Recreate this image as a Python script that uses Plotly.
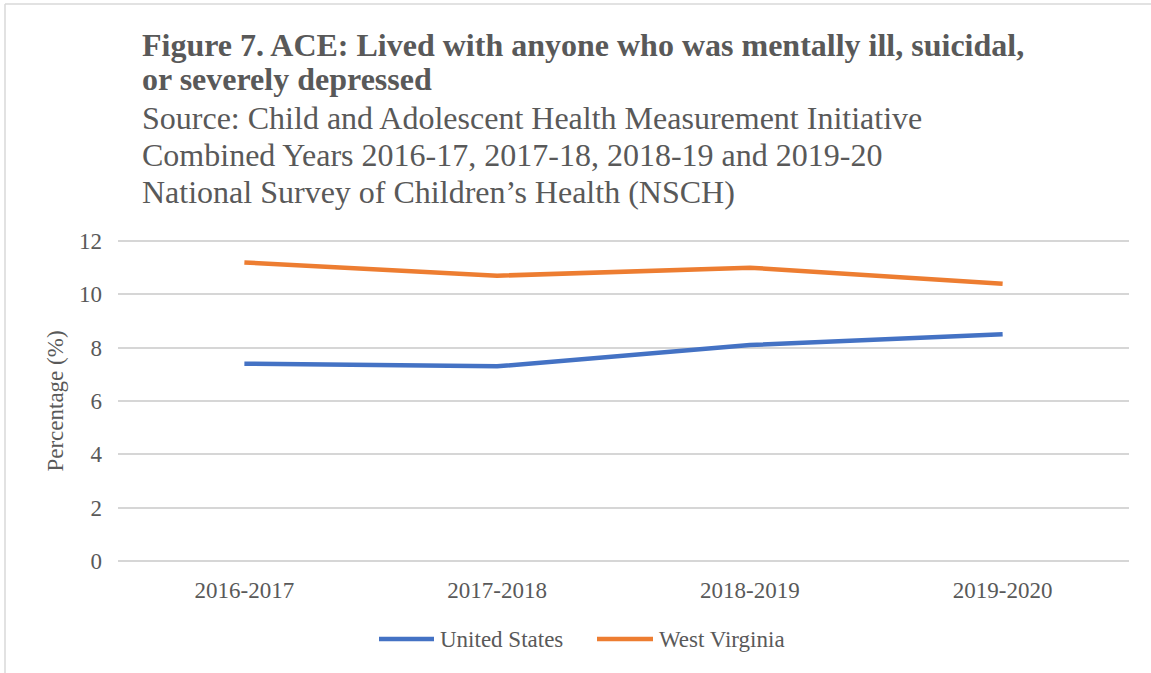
import plotly.graph_objects as go

categories = ["2016-2017", "2017-2018", "2018-2019", "2019-2020"]
us_values = [7.4, 7.3, 8.1, 8.5]
wv_values = [11.2, 10.7, 11.0, 10.4]
series_names = ["United States", "West Virginia"]
y_ticks = [0, 2, 4, 6, 8, 10, 12]

W, H = 1151, 673
L, R, T, B = 118, 1129, 240, 562
YMIN, YMAX = -0.04, 12.04

def px(x):
    return (x - L) / (R - L)

def py(y):
    return (B - y) / (B - T)

FONT = "Liberation Serif, Times New Roman, serif"
TXT = "#595959"
COLORS = ["#4472C4", "#ED7D31"]

fig = go.Figure()
for name, vals, col in zip(series_names, [us_values, wv_values], COLORS):
    fig.add_trace(go.Scatter(x=categories, y=vals, name=name, mode="lines",
                             line=dict(color=col, width=4.5), showlegend=False))

title_lines = [
    ("<b>Figure 7. ACE: Lived with anyone who was mentally ill, suicidal,</b>", 45, 32),
    ("<b>or severely depressed</b>", 79, 32),
    ("Source: Child and Adolescent Health Measurement Initiative", 118, 32),
    ("Combined Years 2016-17, 2017-18, 2018-19 and 2019-20", 155, 32),
    ("National Survey of Children’s Health (NSCH)", 192, 32),
]
annotations = []
for text, yc, size in title_lines:
    annotations.append(dict(text=text, x=px(140), y=py(yc), xref="paper", yref="paper",
                            xanchor="left", yanchor="middle", showarrow=False,
                            font=dict(family=FONT, size=size, color=TXT)))

# legend (custom, to match the reference layout)
legend_pos = [(379, 434, 438), (597, 653, 657)]
shapes = []
for name, col, (x0, x1, xt) in zip(series_names, COLORS, legend_pos):
    shapes.append(dict(type="line", xref="paper", yref="paper", x0=px(x0), x1=px(x1),
                       y0=py(639), y1=py(639), line=dict(color=col, width=4.5)))
    annotations.append(dict(text=name, x=px(xt), y=py(639), xref="paper", yref="paper",
                            xanchor="left", yanchor="middle", showarrow=False,
                            font=dict(family=FONT, size=23, color=TXT)))

# chart border
shapes += [
    dict(type="line", xref="paper", yref="paper", x0=px(5), x1=px(5), y0=py(4), y1=py(H + 5),
         line=dict(color="#D9D9D9", width=1.5)),
    dict(type="line", xref="paper", yref="paper", x0=px(5), x1=px(W + 5), y0=py(4), y1=py(4),
         line=dict(color="#D9D9D9", width=1.5)),
]

fig.update_layout(
    width=W, height=H,
    margin=dict(l=L, r=W - R, t=T, b=H - B, pad=0),
    paper_bgcolor="white", plot_bgcolor="white",
    font=dict(family=FONT, color=TXT, size=23),
    annotations=annotations,
    shapes=shapes,
    showlegend=False,
    xaxis=dict(type="category", range=[-0.5, 3.5], showgrid=False, zeroline=False,
               showline=False, ticks="", ticklabelstandoff=12,
               tickfont=dict(family=FONT, size=23, color=TXT), fixedrange=True),
    yaxis=dict(range=[YMIN, YMAX], tickvals=y_ticks, showgrid=True, gridcolor="#D6D6D6",
               gridwidth=1.6, zeroline=False, showline=False, ticks="", ticklabelstandoff=15,
               tickfont=dict(family=FONT, size=23, color=TXT),
               title=dict(text="Percentage (%)", font=dict(family=FONT, size=23, color=TXT),
                          standoff=8), fixedrange=True),
)

fig.write_html("out.html", config={"displayModeBar": False},
               post_script="document.body.style.margin='0';document.body.style.overflow='hidden';")
